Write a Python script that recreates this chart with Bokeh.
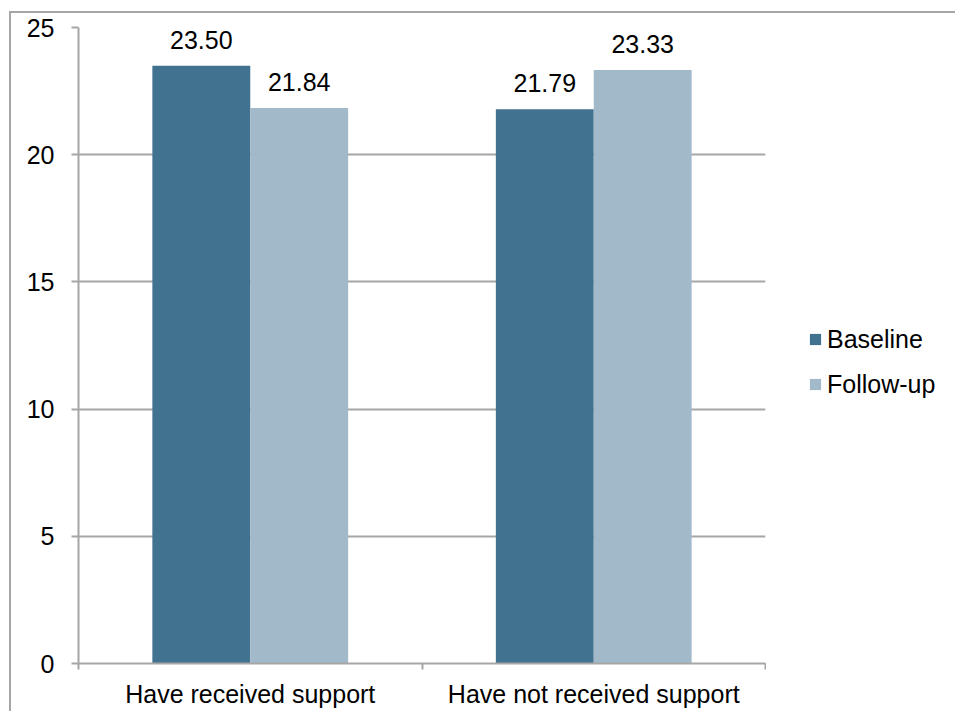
from bokeh.plotting import figure
from bokeh.layouts import row
from bokeh.models import ColumnDataSource, FixedTicker, Legend, LegendItem, LabelSet, Range1d
from bokeh.core.properties import value
from bokeh.embed import file_html
from bokeh.resources import INLINE
import numpy as np

# Data
categories = ["Have received support", "Have not received support"]
series = ["Baseline", "Follow-up"]
baseline = [23.50, 21.79]
follow_up = [21.84, 23.33]
y_ticks = [0, 5, 10, 15, 20, 25]

colors = ["#41728F", "#A2B9C9"]
grid_color = "#A6A6A6"
font = "Liberation Sans"
fsize = "25px"

centers = np.arange(len(categories)) + 0.5
bounds = list(np.arange(len(categories) + 1).astype(float))
bar_w = 0.285
offsets = [-bar_w / 2, bar_w / 2]

# Main chart
p = figure(
    width=755, height=698,
    x_range=Range1d(0, len(categories)), y_range=Range1d(0, 25),
    output_backend="svg", toolbar_location=None,
    min_border_left=67, min_border_right=1, min_border_top=14, min_border_bottom=48,
)
p.outline_line_color = None
p.background_fill_color = "white"
p.border_fill_color = "white"

for vals, off, col in zip([baseline, follow_up], offsets, colors):
    src = ColumnDataSource(dict(
        x=centers + off, top=vals, label=[f"{v:.2f}" for v in vals]))
    p.vbar(x="x", top="top", width=bar_w, bottom=0, source=src,
           fill_color=col, line_color=None)
    p.add_layout(LabelSet(x="x", y="top", text="label", source=src,
                          text_align="center", text_baseline="alphabetic",
                          y_offset=17, text_font=value(font), text_font_size=value(fsize),
                          text_color="#000000"))

# Y axis
p.yaxis.ticker = FixedTicker(ticks=y_ticks)
p.yaxis.axis_line_color = grid_color
p.yaxis.axis_line_width = 2
p.yaxis.major_tick_line_color = grid_color
p.yaxis.major_tick_line_width = 2
p.yaxis.major_tick_in = 0
p.yaxis.major_tick_out = 7
p.yaxis.minor_tick_line_color = None
p.yaxis.major_label_standoff = 17
p.yaxis.major_label_text_font = font
p.yaxis.major_label_text_font_size = fsize
p.yaxis.major_label_text_color = "#000000"

# X axis: labels at category centres, ticks at category boundaries
p.xaxis.ticker = FixedTicker(ticks=list(centers), minor_ticks=bounds)
p.xaxis.major_label_overrides = {float(c): cat for c, cat in zip(centers, categories)}
p.xaxis.axis_line_color = grid_color
p.xaxis.axis_line_width = 2
p.xaxis.major_tick_line_color = None
p.xaxis.major_tick_in = 0
p.xaxis.major_tick_out = 6
p.xaxis.minor_tick_line_color = grid_color
p.xaxis.minor_tick_line_width = 2
p.xaxis.minor_tick_in = 0
p.xaxis.minor_tick_out = 6
p.xaxis.major_label_standoff = 10
p.xaxis.major_label_text_font = font
p.xaxis.major_label_text_font_size = fsize
p.xaxis.major_label_text_color = "#000000"

p.xgrid.grid_line_color = None
p.ygrid.ticker = FixedTicker(ticks=y_ticks)
p.ygrid.grid_line_color = grid_color
p.ygrid.grid_line_width = 2

# Legend panel to the right of the chart; the key renderers sit outside its view
q = figure(
    width=189, height=698, x_range=Range1d(0, 1), y_range=Range1d(0, 1),
    output_backend="svg", toolbar_location=None,
    x_axis_location=None, y_axis_location=None,
    min_border_left=0, min_border_right=0, min_border_top=0, min_border_bottom=0,
)
q.outline_line_color = None
q.grid.grid_line_color = None
q.border_fill_color = "white"
keys = [q.vbar(x=[-10], top=[0], width=1, fill_color=c, line_color=None) for c in colors]

legend = Legend(
    items=[LegendItem(label=s, renderers=[r]) for s, r in zip(series, keys)],
    location=(42, 264), orientation="vertical",
    margin=0, padding=0, spacing=15,
    glyph_width=14, glyph_height=14, label_height=30, label_standoff=5,
    label_text_font=font, label_text_font_size=fsize, label_text_color="#000000",
    border_line_color=None, background_fill_alpha=0,
)
q.add_layout(legend, "center")

chart = row(p, q, spacing=0)
chart.margin = (11, 0, 0, 9)
chart.styles = {"border-left": f"2px solid {grid_color}", "border-top": f"2px solid {grid_color}"}

open("out.html", "w").write(file_html(chart, INLINE))
